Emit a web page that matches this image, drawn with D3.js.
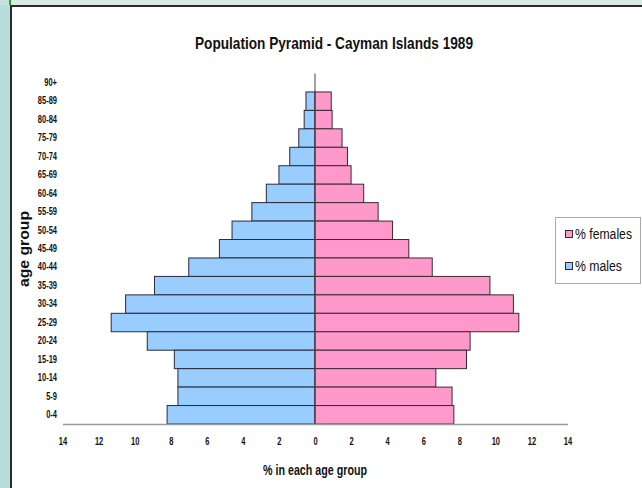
<!DOCTYPE html>
<html>
<head>
<meta charset="utf-8">
<script src="https://cdn.jsdelivr.net/npm/d3@7"></script>
<style>
  html, body { margin: 0; padding: 0; background: #fff; }
  svg text { font-family: "Liberation Sans Narrow", "Arial Narrow", "Liberation Sans", Arial, sans-serif; fill: #111; }
</style>
</head>
<body>
<svg id="chart" width="642" height="488"></svg>
<script>
// age groups, top to bottom
const ageGroups = ["90+", "85-89", "80-84", "75-79", "70-74", "65-69", "60-64", "55-59", "50-54",
  "45-49", "40-44", "35-39", "30-34", "25-29", "20-24", "15-19", "10-14", "5-9", "0-4"];

const malesPct = [0, 0.5, 0.6, 0.9, 1.4, 2.0, 2.7, 3.5, 4.6, 5.3, 7.0, 8.9, 10.5, 11.3, 9.3, 7.8, 7.6, 7.6, 8.2];
const femalesPct = [0, 0.9, 0.95, 1.5, 1.8, 2.0, 2.7, 3.5, 4.3, 5.2, 6.5, 9.7, 11.0, 11.3, 8.6, 8.4, 6.7, 7.6, 7.7];

const xTicks = [-14, -12, -10, -8, -6, -4, -2, 0, 2, 4, 6, 8, 10, 12, 14];

const svg = d3.select("#chart");

// frame: teal strips at top/left, dark border line
svg.append("rect").attr("x", 0).attr("y", 0).attr("width", 642).attr("height", 488).attr("fill", "#fff");
svg.append("rect").attr("x", 0).attr("y", 0).attr("width", 10).attr("height", 488).attr("fill", "#b9dcdc");
svg.append("rect").attr("x", 0).attr("y", 0).attr("width", 642).attr("height", 5).attr("fill", "#dbe9e9");
svg.append("rect").attr("x", 0).attr("y", 0).attr("width", 10).attr("height", 5).attr("fill", "#c6e0e0");
svg.append("rect").attr("x", 9).attr("y", 0).attr("width", 2).attr("height", 5).attr("fill", "#22aa22");
svg.append("path").attr("d", "M642,6H11V488").attr("fill", "none").attr("stroke", "#2b2b2b").attr("stroke-width", 2);

const x = d3.scaleLinear().domain([-14, 14]).range([62.5, 567.5]);
const y = d3.scaleBand().domain(ageGroups).range([73.5, 424]).padding(0);

// narrow text helper (no condensed font installed)
function squeeze(sel, w) {
  sel.attr("textLength", w).attr("lengthAdjust", "spacingAndGlyphs");
}

// title
svg.append("text")
  .attr("x", 334).attr("y", 49)
  .attr("text-anchor", "middle")
  .attr("font-size", 17).attr("font-weight", "bold")
  .text("Population Pyramid - Cayman Islands  1989")
  .call(squeeze, 278);

// male bars (left)
svg.append("g").selectAll("rect")
  .data(ageGroups.map((g, i) => ({ g, v: malesPct[i] })).filter(d => d.v > 0))
  .join("rect")
  .attr("x", d => x(-d.v))
  .attr("y", d => y(d.g))
  .attr("width", d => x(0) - x(-d.v))
  .attr("height", y.bandwidth())
  .attr("fill", "#99ccff")
  .attr("stroke", "#2a2a3a")
  .attr("stroke-width", 1);

// female bars (right)
svg.append("g").selectAll("rect")
  .data(ageGroups.map((g, i) => ({ g, v: femalesPct[i] })).filter(d => d.v > 0))
  .join("rect")
  .attr("x", x(0))
  .attr("y", d => y(d.g))
  .attr("width", d => x(d.v) - x(0))
  .attr("height", y.bandwidth())
  .attr("fill", "#ff99cc")
  .attr("stroke", "#3a2a30")
  .attr("stroke-width", 1);

// zero line
svg.append("line")
  .attr("x1", x(0)).attr("x2", x(0))
  .attr("y1", y.range()[0]).attr("y2", y.range()[1])
  .attr("stroke", "#444").attr("stroke-width", 1);

// x axis
const xAxis = svg.append("g")
  .attr("transform", `translate(0,${y.range()[1]})`)
  .call(d3.axisBottom(x).tickValues(xTicks).tickSize(0).tickPadding(14).tickFormat(d => Math.abs(d)));
xAxis.select(".domain").attr("stroke", "#999").attr("stroke-width", 1.5);
xAxis.selectAll("text")
  .attr("font-size", 10).attr("font-weight", "bold").attr("fill", "#222")
  .attr("transform", "scale(0.75,1)");

// y axis labels
const yAxis = svg.append("g")
  .attr("transform", "translate(57,0)")
  .call(d3.axisLeft(y).tickSize(0).tickPadding(0));
yAxis.select(".domain").remove();
yAxis.selectAll("text")
  .attr("font-size", 10).attr("font-weight", "bold").attr("fill", "#222")
  .attr("transform", "scale(0.75,1)");

// axis titles
svg.append("text")
  .attr("x", 315).attr("y", 475)
  .attr("text-anchor", "middle")
  .attr("font-size", 14).attr("font-weight", "bold")
  .text("% in each age group")
  .call(squeeze, 104);

svg.append("text")
  .attr("transform", "translate(29,249) rotate(-90)")
  .attr("text-anchor", "middle")
  .attr("font-size", 15).attr("font-weight", "bold")
  .text("age group")
  .call(squeeze, 76);

// legend
const legendItems = [
  { label: "% females", color: "#ff99cc", stroke: "#3a2a30", w: 57 },
  { label: "% males", color: "#99ccff", stroke: "#2a2a3a", w: 47 }
];
const legend = svg.append("g");
legend.append("rect")
  .attr("x", 555.5).attr("y", 217.5).attr("width", 85).attr("height", 66)
  .attr("fill", "#fff").attr("stroke", "#aaa");
legendItems.forEach((d, i) => {
  const cy = 234 + i * 32;
  legend.append("rect")
    .attr("x", 565.5).attr("y", cy - 3.5).attr("width", 7).attr("height", 7)
    .attr("fill", d.color).attr("stroke", d.stroke);
  legend.append("text")
    .attr("x", 575).attr("y", cy + 5)
    .attr("font-size", 14)
    .text(d.label)
    .call(squeeze, d.w);
});
</script>
</body>
</html>
